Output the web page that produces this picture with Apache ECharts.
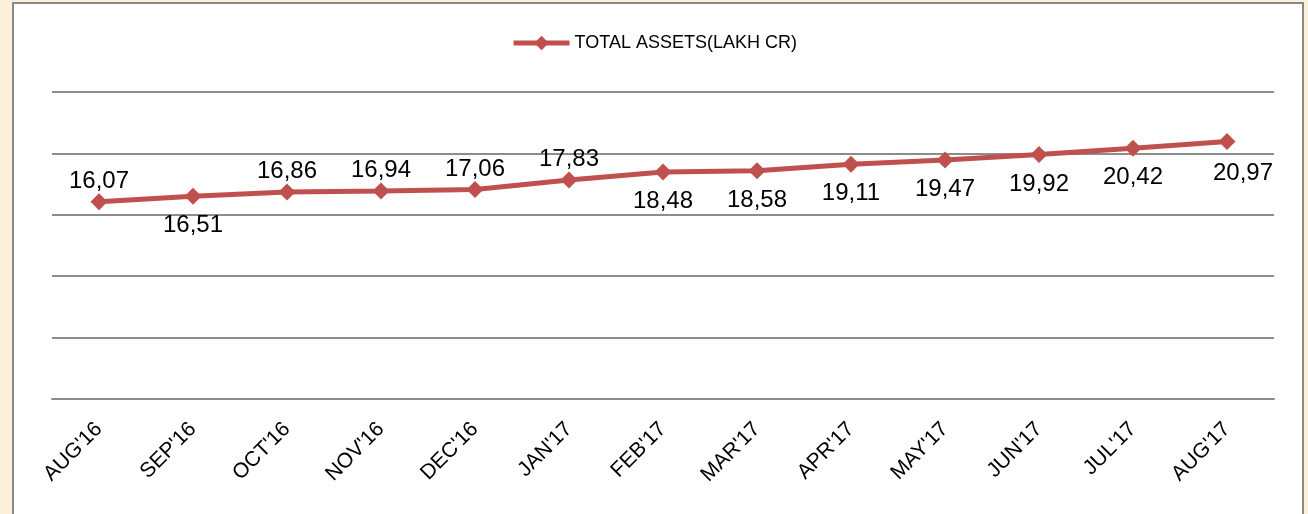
<!DOCTYPE html>
<html>
<head>
<meta charset="utf-8">
<script src="https://cdn.jsdelivr.net/npm/echarts@6/dist/echarts.min.js"></script>
<style>
  html, body { margin: 0; padding: 0; background: #fcefd8; }
  #chart { width: 1308px; height: 514px; }
</style>
</head>
<body>
<div id="chart"></div>
<script>
const months = ["AUG'16", "SEP'16", "OCT'16", "NOV'16", "DEC'16", "JAN'17", "FEB'17",
  "MAR'17", "APR'17", "MAY'17", "JUN'17", "JUL'17", "AUG'17"]
const totalAssets = [16.07, 16.51, 16.86, 16.94, 17.06, 17.83, 18.48, 18.58, 19.11, 19.47, 19.92, 20.42, 20.97]
const seriesName = 'TOTAL ASSETS(LAKH CR)'

// which labels sit under the line in the original
const labelsBelow = new Set([1, 6, 7, 8, 9, 10, 11, 12])

const chart = echarts.init(document.getElementById('chart'))

const points = totalAssets.map((v, i) => {
    const below = labelsBelow.has(i)
    return {
        value: v,
        label: {
            position: below ? 'bottom' : 'top',
            distance: below ? 9 : 0,
            offset: i === 12 ? [16, 2] : [0, 0]
        }
    }
})

chart.setOption({
    backgroundColor: '#fcefd8',
    textStyle: { fontFamily: '"Liberation Sans", Arial, sans-serif' },
    graphic: [{
        type: 'rect',
        z: -10,
        shape: { x: 13, y: 3, width: 1290, height: 530 },
        style: { fill: '#ffffff', stroke: '#888888', lineWidth: 2 }
    }],
    legend: {
        top: 29,
        left: 'center',
        itemWidth: 56,
        itemHeight: 18,
        itemGap: 3,
        lineStyle: { width: 5 },
        textStyle: { fontSize: 18, color: '#000' },
        data: [seriesName]
    },
    grid: { left: 52, right: 34, top: 92, bottom: 115 },
    xAxis: {
        type: 'category',
        data: months,
        boundaryGap: true,
        axisLine: { lineStyle: { color: '#8c8c8c', width: 2 } },
        axisTick: { show: false },
        axisLabel: { rotate: 45, margin: 27, fontSize: 21, color: '#000' }
    },
    yAxis: {
        type: 'value',
        min: 0,
        max: 25,
        interval: 5,
        axisLabel: { show: false },
        axisLine: { show: false },
        axisTick: { show: false },
        splitLine: { lineStyle: { color: '#8c8c8c', width: 2 } }
    },
    series: [{
        name: seriesName,
        type: 'line',
        data: points,
        symbol: 'diamond',
        symbolSize: 17,
        lineStyle: { color: '#c0504d', width: 5 },
        itemStyle: { color: '#c0504d' },
        label: {
            show: true,
            fontSize: 24,
            color: '#000',
            formatter: p => p.value.toFixed(2).replace('.', ',')
        }
    }]
})
</script>
</body>
</html>
